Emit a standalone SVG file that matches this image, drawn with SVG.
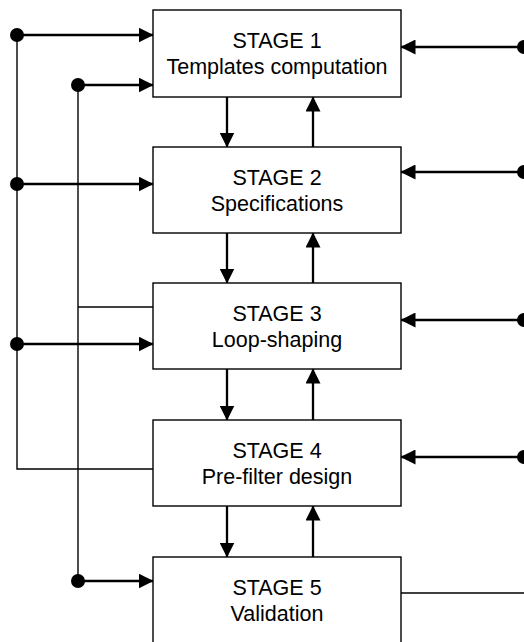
<svg xmlns="http://www.w3.org/2000/svg" width="524" height="642" viewBox="0 0 524 642">
<style>
.box{fill:#fff;stroke:#000;stroke-width:1.4}
.lbl{font-family:"Liberation Sans",Arial,sans-serif;font-size:21.5px;fill:#000;text-anchor:middle}
.thick{fill:none;stroke:#000;stroke-width:2.3}
.thin{fill:none;stroke:#000;stroke-width:1.4}
.dot{fill:#000}
</style>
<defs>
<marker id="ah" markerUnits="userSpaceOnUse" markerWidth="15" markerHeight="15" refX="14.5" refY="7.5" orient="auto" viewBox="0 0 15 15">
<path d="M0,0 L15,7.5 L0,15 z" fill="#000"/>
</marker>
</defs>
<g id="connectors">
<path class="thin" d="M17,35 V469 H153"/>
<path class="thin" d="M78,85 V581"/>
<path class="thin" d="M78,307 H153"/>
<path class="thin" d="M401,593 H524"/>
<path class="thick" d="M17,35 H153" marker-end="url(#ah)"/>
<path class="thick" d="M78,85 H153" marker-end="url(#ah)"/>
<path class="thick" d="M17,184 H153" marker-end="url(#ah)"/>
<path class="thick" d="M17,344 H153" marker-end="url(#ah)"/>
<path class="thick" d="M78,581 H153" marker-end="url(#ah)"/>
<path class="thick" d="M524,47 H401" marker-end="url(#ah)"/>
<path class="thick" d="M524,172 H401" marker-end="url(#ah)"/>
<path class="thick" d="M524,320 H401" marker-end="url(#ah)"/>
<path class="thick" d="M524,457 H401" marker-end="url(#ah)"/>
<path class="thick" d="M227,97 V147" marker-end="url(#ah)"/>
<path class="thick" d="M313,147 V97" marker-end="url(#ah)"/>
<path class="thick" d="M227,233 V283" marker-end="url(#ah)"/>
<path class="thick" d="M313,283 V233" marker-end="url(#ah)"/>
<path class="thick" d="M227,369 V420" marker-end="url(#ah)"/>
<path class="thick" d="M313,420 V369" marker-end="url(#ah)"/>
<path class="thick" d="M227,506 V557" marker-end="url(#ah)"/>
<path class="thick" d="M313,557 V506" marker-end="url(#ah)"/>
<circle class="dot" cx="17" cy="35" r="7"/>
<circle class="dot" cx="78" cy="85" r="7"/>
<circle class="dot" cx="17" cy="184" r="7"/>
<circle class="dot" cx="17" cy="344" r="7"/>
<circle class="dot" cx="78" cy="581" r="7"/>
<circle class="dot" cx="524" cy="47" r="7"/>
<circle class="dot" cx="524" cy="172" r="7"/>
<circle class="dot" cx="524" cy="320" r="7"/>
<circle class="dot" cx="524" cy="457" r="7"/>
</g>
<g id="stage1">
<rect class="box" x="153" y="10" width="248" height="87"/>
<text class="lbl" x="277" y="48">STAGE 1</text>
<text class="lbl" x="277" y="74">Templates computation</text>
</g>
<g id="stage2">
<rect class="box" x="153" y="147" width="248" height="86"/>
<text class="lbl" x="277" y="185">STAGE 2</text>
<text class="lbl" x="277" y="211">Specifications</text>
</g>
<g id="stage3">
<rect class="box" x="153" y="283" width="248" height="86"/>
<text class="lbl" x="277" y="321">STAGE 3</text>
<text class="lbl" x="277" y="347">Loop-shaping</text>
</g>
<g id="stage4">
<rect class="box" x="153" y="420" width="248" height="86"/>
<text class="lbl" x="277" y="458">STAGE 4</text>
<text class="lbl" x="277" y="484">Pre-filter design</text>
</g>
<g id="stage5">
<rect class="box" x="153" y="557" width="248" height="110"/>
<text class="lbl" x="277" y="595">STAGE 5</text>
<text class="lbl" x="277" y="621">Validation</text>
</g>
</svg>
